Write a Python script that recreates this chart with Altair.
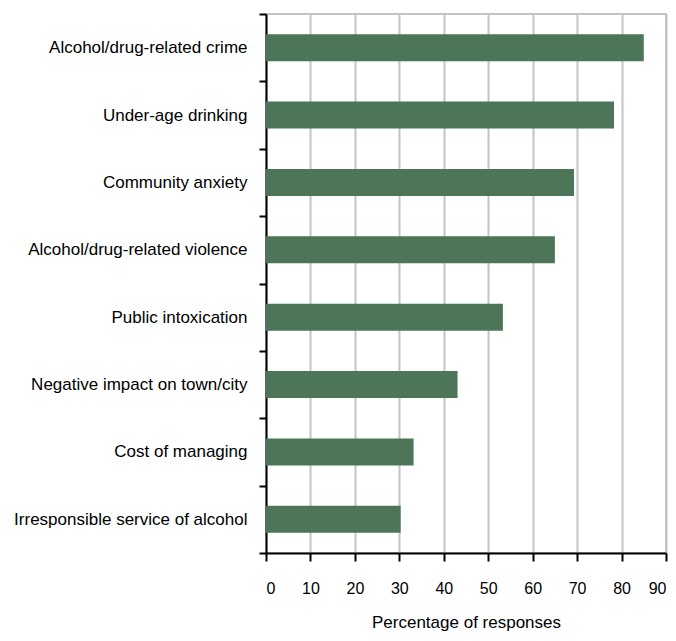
import altair as alt
import pandas as pd

categories = [
    "Alcohol/drug-related crime",
    "Under-age drinking",
    "Community  anxiety",
    "Alcohol/drug-related violence",
    "Public intoxication",
    "Negative impact on town/city",
    "Cost of managing",
    "Irresponsible service of alcohol",
]
values = [85.0, 78.3, 69.3, 65.0, 53.3, 43.1, 33.2, 30.3]
x_ticks = [0, 10, 20, 30, 40, 50, 60, 70, 80, 90]

df = pd.DataFrame({"issue": categories, "pct": values})

FONT = "Liberation Sans"

chart = alt.Chart(df).mark_bar(color="#4d7558", height=alt.RelativeBandSize(0.4)).encode(
    x=alt.X(
        "pct:Q",
        scale=alt.Scale(domain=[0, 90], nice=False),
        axis=alt.Axis(
            title="Percentage of responses",
            values=x_ticks,
            grid=True,
            gridColor="#c4c4c4",
            gridWidth=2,
            domainColor="black",
            domainWidth=2,
            tickColor="black",
            tickWidth=2,
            tickSize=8,
            labelPadding=19,
            labelFontSize=16,
            labelFont=FONT,
            labelColor="black",
            titleFont=FONT,
            titleFontSize=17,
            titleFontWeight="normal",
            titleColor="black",
            titlePadding=18,
        ),
    ),
    y=alt.Y(
        "issue:N",
        sort=categories,
        scale=alt.Scale(paddingInner=0, paddingOuter=0),
        axis=alt.Axis(
            title=None,
            tickBand="extent",
            domainColor="black",
            domainWidth=2,
            tickColor="black",
            tickWidth=2,
            tickSize=7,
            labelPadding=12,
            labelFontSize=17,
            labelFont=FONT,
            labelColor="black",
            labelLimit=300,
        ),
    ),
).properties(
    width=400,
    height=539,
    autosize=alt.AutoSizeParams(type="none"),
    padding={"left": 258, "top": 6, "right": 2, "bottom": 80},
).configure_view(
    stroke="#c4c4c4",
    strokeWidth=2,
)

chart.save("out.html", embed_options={"renderer": "svg", "actions": False})
